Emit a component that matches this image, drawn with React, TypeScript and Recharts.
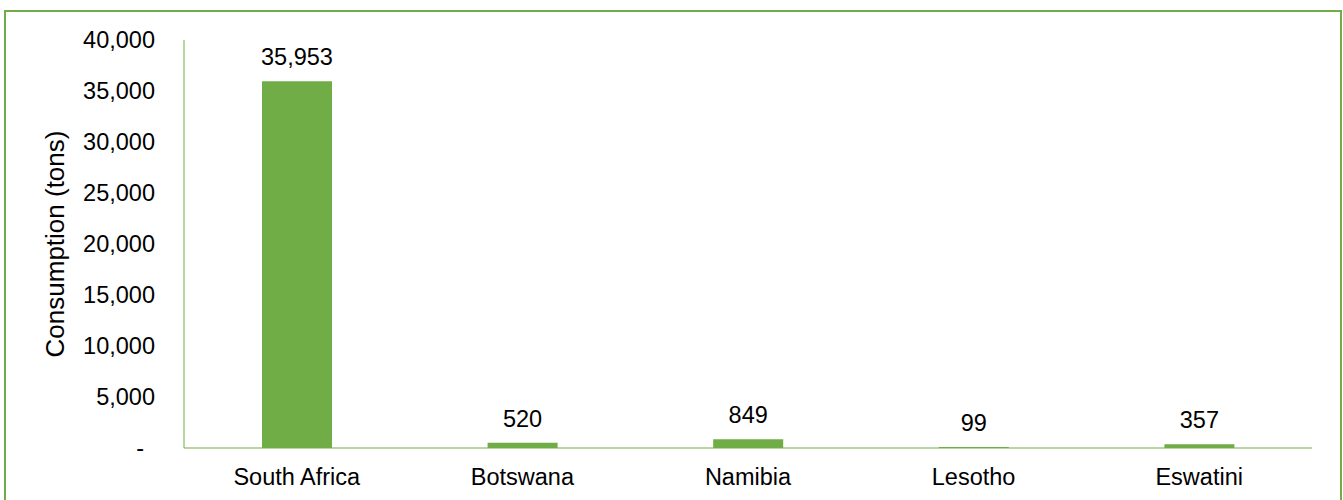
import React from "react";
import { BarChart, Bar, XAxis, YAxis, LabelList, Label } from "recharts";

const countries = ["South Africa", "Botswana", "Namibia", "Lesotho", "Eswatini"];
const consumption = [35953, 520, 849, 99, 357];
const yTicks = [0, 5000, 10000, 15000, 20000, 25000, 30000, 35000, 40000];

const data = countries.map((c, i) => ({ country: c, value: consumption[i] }));

const GREEN = "#70AD47";
const FONT = "'Liberation Sans', Arial, sans-serif";
const FS = 23.5;

const fmt = (v: number) => Number(v).toLocaleString("en-US");

const YTick = (props: any) => {
  const { x, y, payload } = props;
  const v = payload.value;
  return (
    <text
      x={v === 0 ? x - 11 : x}
      y={y}
      textAnchor="end"
      dominantBaseline="central"
      fontSize={FS}
      fontFamily={FONT}
      fill="#000"
    >
      {v === 0 ? "-" : fmt(v)}
    </text>
  );
};

export default function App() {
  return (
    <div
      style={{
        position: "absolute",
        left: 0,
        top: 0,
        width: 1343,
        height: 500,
        overflow: "hidden",
        background: "#fff",
        fontFamily: FONT,
      }}
    >
      <div
        style={{
          position: "absolute",
          left: 4,
          top: 10,
          width: 1338,
          height: 520,
          border: `2px solid ${GREEN}`,
          boxSizing: "border-box",
        }}
      />
      <div style={{ position: "absolute", left: 0, top: 0 }}>
        <BarChart
          width={1343}
          height={500}
          data={data}
          margin={{ top: 40, right: 31, bottom: 0, left: 0 }}
        >
          <XAxis
            dataKey="country"
            height={52}
            axisLine={{ stroke: GREEN, strokeWidth: 1 }}
            tickLine={false}
            tickSize={0}
            tickMargin={20}
            tick={{ fontSize: FS, fill: "#000", fontFamily: FONT }}
            interval={0}
          />
          <YAxis
            width={184}
            domain={[0, 40000]}
            ticks={yTicks}
            interval={0}
            axisLine={{ stroke: GREEN, strokeWidth: 1 }}
            tickLine={false}
            tickSize={0}
            tickMargin={29}
            tick={<YTick />}
          >
            <Label
              content={(p: any) => {
                const vb = p.viewBox || {};
                const cy = (vb.y ?? 40) + (vb.height ?? 408) / 2;
                return (
                  <text
                    x={55}
                    y={cy}
                    transform={`rotate(-90, 55, ${cy})`}
                    textAnchor="middle"
                    dominantBaseline="central"
                    fontSize={26}
                    fontFamily={FONT}
                    fill="#000"
                  >
                    Consumption (tons)
                  </text>
                );
              }}
            />
          </YAxis>
          <Bar dataKey="value" fill={GREEN} barSize={70} isAnimationActive={false}>
            <LabelList
              dataKey="value"
              position="top"
              offset={16}
              formatter={(v: any) => fmt(v)}
              fill="#000"
              fontSize={FS}
              fontFamily={FONT}
            />
          </Bar>
        </BarChart>
      </div>
    </div>
  );
}
